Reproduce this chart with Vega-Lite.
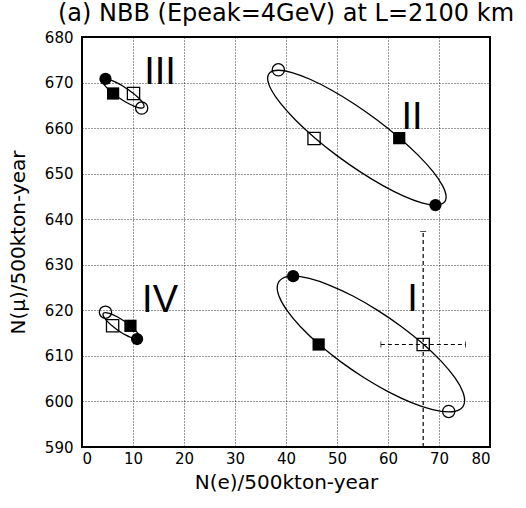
{
  "$schema": "https://vega.github.io/schema/vega-lite/v6.json",
  "width": 408,
  "height": 410,
  "autosize": {"type": "none"},
  "padding": {"left": 82, "top": 37, "right": 36, "bottom": 61},
  "background": "white",
  "config": {
    "view": {"stroke": "black", "strokeWidth": 2},
    "font": "DejaVu Sans",
    "axis": {
      "domain": false,
      "ticks": false,
      "grid": true,
      "gridColor": "black",
      "gridDash": [1, 2],
      "gridWidth": 0.8,
      "gridOpacity": 1,
      "labelFont": "DejaVu Sans",
      "labelFontSize": 15,
      "labelColor": "black",
      "titleFont": "DejaVu Sans",
      "titleFontSize": 20,
      "titleFontWeight": "normal",
      "titleColor": "black"
    }
  },
  "title": {
    "text": "(a) NBB (Epeak=4GeV) at L=2100 km",
    "font": "DejaVu Sans",
    "fontSize": 24,
    "fontWeight": "normal",
    "color": "black",
    "anchor": "middle",
    "offset": 4
  },
  "datasets": {
    "ellipse": [
      {"g": "I", "i": 0, "x": 41.4, "y": 627.5},
      {"g": "I", "i": 1, "x": 39.27, "y": 626.99},
      {"g": "I", "i": 2, "x": 38.32, "y": 625.5},
      {"g": "I", "i": 3, "x": 38.62, "y": 623.14},
      {"g": "I", "i": 4, "x": 40.15, "y": 620.05},
      {"g": "I", "i": 5, "x": 42.8, "y": 616.46},
      {"g": "I", "i": 6, "x": 46.4, "y": 612.6},
      {"g": "I", "i": 7, "x": 50.7, "y": 608.74},
      {"g": "I", "i": 8, "x": 55.4, "y": 605.15},
      {"g": "I", "i": 9, "x": 60.19, "y": 602.06},
      {"g": "I", "i": 10, "x": 64.73, "y": 599.7},
      {"g": "I", "i": 11, "x": 68.73, "y": 598.21},
      {"g": "I", "i": 12, "x": 71.9, "y": 597.7},
      {"g": "I", "i": 13, "x": 74.03, "y": 598.21},
      {"g": "I", "i": 14, "x": 74.98, "y": 599.7},
      {"g": "I", "i": 15, "x": 74.68, "y": 602.06},
      {"g": "I", "i": 16, "x": 73.15, "y": 605.15},
      {"g": "I", "i": 17, "x": 70.5, "y": 608.74},
      {"g": "I", "i": 18, "x": 66.9, "y": 612.6},
      {"g": "I", "i": 19, "x": 62.6, "y": 616.46},
      {"g": "I", "i": 20, "x": 57.9, "y": 620.05},
      {"g": "I", "i": 21, "x": 53.12, "y": 623.14},
      {"g": "I", "i": 22, "x": 48.57, "y": 625.5},
      {"g": "I", "i": 23, "x": 44.57, "y": 626.99},

      {"g": "II", "i": 0, "x": 69.3, "y": 643.1},
      {"g": "II", "i": 1, "x": 70.92, "y": 643.6},
      {"g": "II", "i": 2, "x": 71.39, "y": 645.08},
      {"g": "II", "i": 3, "x": 70.66, "y": 647.44},
      {"g": "II", "i": 4, "x": 68.79, "y": 650.5},
      {"g": "II", "i": 5, "x": 65.9, "y": 654.07},
      {"g": "II", "i": 6, "x": 62.2, "y": 657.9},
      {"g": "II", "i": 7, "x": 57.93, "y": 661.73},
      {"g": "II", "i": 8, "x": 53.39, "y": 665.3},
      {"g": "II", "i": 9, "x": 48.88, "y": 668.37},
      {"g": "II", "i": 10, "x": 44.71, "y": 670.72},
      {"g": "II", "i": 11, "x": 41.17, "y": 672.2},
      {"g": "II", "i": 12, "x": 38.5, "y": 672.7},
      {"g": "II", "i": 13, "x": 36.88, "y": 672.2},
      {"g": "II", "i": 14, "x": 36.41, "y": 670.72},
      {"g": "II", "i": 15, "x": 37.14, "y": 668.37},
      {"g": "II", "i": 16, "x": 39.01, "y": 665.3},
      {"g": "II", "i": 17, "x": 41.9, "y": 661.73},
      {"g": "II", "i": 18, "x": 45.6, "y": 657.9},
      {"g": "II", "i": 19, "x": 49.87, "y": 654.07},
      {"g": "II", "i": 20, "x": 54.41, "y": 650.5},
      {"g": "II", "i": 21, "x": 58.92, "y": 647.44},
      {"g": "II", "i": 22, "x": 63.09, "y": 645.08},
      {"g": "II", "i": 23, "x": 66.63, "y": 643.6},

      {"g": "III", "i": 0, "x": 4.55, "y": 670.8},
      {"g": "III", "i": 1, "x": 4.15, "y": 670.69},
      {"g": "III", "i": 2, "x": 4.03, "y": 670.37},
      {"g": "III", "i": 3, "x": 4.18, "y": 669.86},
      {"g": "III", "i": 4, "x": 4.59, "y": 669.2},
      {"g": "III", "i": 5, "x": 5.25, "y": 668.43},
      {"g": "III", "i": 6, "x": 6.1, "y": 667.6},
      {"g": "III", "i": 7, "x": 7.09, "y": 666.77},
      {"g": "III", "i": 8, "x": 8.14, "y": 666.0},
      {"g": "III", "i": 9, "x": 9.2, "y": 665.34},
      {"g": "III", "i": 10, "x": 10.17, "y": 664.83},
      {"g": "III", "i": 11, "x": 11.01, "y": 664.51},
      {"g": "III", "i": 12, "x": 11.65, "y": 664.4},
      {"g": "III", "i": 13, "x": 12.05, "y": 664.51},
      {"g": "III", "i": 14, "x": 12.17, "y": 664.83},
      {"g": "III", "i": 15, "x": 12.02, "y": 665.34},
      {"g": "III", "i": 16, "x": 11.61, "y": 666.0},
      {"g": "III", "i": 17, "x": 10.95, "y": 666.77},
      {"g": "III", "i": 18, "x": 10.1, "y": 667.6},
      {"g": "III", "i": 19, "x": 9.11, "y": 668.43},
      {"g": "III", "i": 20, "x": 8.06, "y": 669.2},
      {"g": "III", "i": 21, "x": 7.0, "y": 669.86},
      {"g": "III", "i": 22, "x": 6.03, "y": 670.37},
      {"g": "III", "i": 23, "x": 5.19, "y": 670.69},

      {"g": "IV", "i": 0, "x": 10.8, "y": 613.7},
      {"g": "IV", "i": 1, "x": 11.16, "y": 613.8},
      {"g": "IV", "i": 2, "x": 11.29, "y": 614.09},
      {"g": "IV", "i": 3, "x": 11.17, "y": 614.55},
      {"g": "IV", "i": 4, "x": 10.81, "y": 615.15},
      {"g": "IV", "i": 5, "x": 10.24, "y": 615.85},
      {"g": "IV", "i": 6, "x": 9.5, "y": 616.6},
      {"g": "IV", "i": 7, "x": 8.64, "y": 617.35},
      {"g": "IV", "i": 8, "x": 7.71, "y": 618.05},
      {"g": "IV", "i": 9, "x": 6.78, "y": 618.65},
      {"g": "IV", "i": 10, "x": 5.92, "y": 619.11},
      {"g": "IV", "i": 11, "x": 5.17, "y": 619.4},
      {"g": "IV", "i": 12, "x": 4.6, "y": 619.5},
      {"g": "IV", "i": 13, "x": 4.24, "y": 619.4},
      {"g": "IV", "i": 14, "x": 4.12, "y": 619.11},
      {"g": "IV", "i": 15, "x": 4.24, "y": 618.65},
      {"g": "IV", "i": 16, "x": 4.59, "y": 618.05},
      {"g": "IV", "i": 17, "x": 5.16, "y": 617.35},
      {"g": "IV", "i": 18, "x": 5.9, "y": 616.6},
      {"g": "IV", "i": 19, "x": 6.76, "y": 615.85},
      {"g": "IV", "i": 20, "x": 7.69, "y": 615.15},
      {"g": "IV", "i": 21, "x": 8.62, "y": 614.55},
      {"g": "IV", "i": 22, "x": 9.49, "y": 614.09},
      {"g": "IV", "i": 23, "x": 10.23, "y": 613.8}
    ],
    "markers": [
      {"g": "I", "kind": "filled circle", "x": 41.4, "y": 627.5},
      {"g": "I", "kind": "filled square", "x": 46.4, "y": 612.5},
      {"g": "I", "kind": "open square", "x": 66.9, "y": 612.5},
      {"g": "I", "kind": "open circle", "x": 71.9, "y": 597.8},
      {"g": "II", "kind": "open circle", "x": 38.5, "y": 672.8},
      {"g": "II", "kind": "open square", "x": 45.5, "y": 657.7},
      {"g": "II", "kind": "filled square", "x": 62.2, "y": 657.8},
      {"g": "II", "kind": "filled circle", "x": 69.3, "y": 643.1},
      {"g": "III", "kind": "filled circle", "x": 4.6, "y": 670.8},
      {"g": "III", "kind": "filled square", "x": 6.1, "y": 667.6},
      {"g": "III", "kind": "open square", "x": 10.1, "y": 667.6},
      {"g": "III", "kind": "open circle", "x": 11.7, "y": 664.4},
      {"g": "IV", "kind": "open circle", "x": 4.6, "y": 619.6},
      {"g": "IV", "kind": "open square", "x": 6.0, "y": 616.6},
      {"g": "IV", "kind": "filled square", "x": 9.5, "y": 616.6},
      {"g": "IV", "kind": "filled circle", "x": 10.8, "y": 613.7}
    ],
    "labels": [
      {"label": "I", "x": 64.8, "y": 622.2},
      {"label": "II", "x": 64.7, "y": 662.2},
      {"label": "III", "x": 15.3, "y": 672.1},
      {"label": "IV", "x": 15.3, "y": 622.0}
    ],
    "errx": [{"xlo": 58.6, "xhi": 75.2, "y": 612.5}],
    "erry": [{"x": 66.9, "ylo": 590, "yhi": 637.3}]
  },
  "layer": [
    {
      "data": {"name": "ellipse"},
      "mark": {"type": "line", "interpolate": "cardinal-closed", "color": "black", "strokeWidth": 1.3},
      "encoding": {
        "x": {"field": "x", "type": "quantitative", "scale": {"domain": [0, 80], "nice": false, "zero": false},
              "axis": {"values": [0, 10, 20, 30, 40, 50, 60, 70, 80], "labelPadding": 4, "titlePadding": 6},
              "title": "N(e)/500kton-year"},
        "y": {"field": "y", "type": "quantitative", "scale": {"domain": [590, 680], "nice": false, "zero": false},
              "axis": {"values": [590, 600, 610, 620, 630, 640, 650, 660, 670, 680], "labelPadding": 9, "titlePadding": 16},
              "title": "N(μ)/500kton-year"},
        "detail": {"field": "g"},
        "order": {"field": "i", "type": "quantitative"}
      }
    },
    {
      "data": {"name": "errx"},
      "mark": {"type": "errorbar", "ticks": {"size": 6, "color": "black"}, "rule": {"strokeDash": [4, 3], "color": "black", "strokeWidth": 1.2}},
      "encoding": {
        "x": {"field": "xlo", "type": "quantitative", "title": "N(e)/500kton-year"},
        "x2": {"field": "xhi"},
        "y": {"field": "y", "type": "quantitative", "title": "N(μ)/500kton-year"}
      }
    },
    {
      "data": {"name": "erry"},
      "mark": {"type": "errorbar", "ticks": {"size": 6, "color": "black"}, "rule": {"strokeDash": [4, 3], "color": "black", "strokeWidth": 1.2}},
      "encoding": {
        "y": {"field": "ylo", "type": "quantitative", "title": "N(μ)/500kton-year"},
        "y2": {"field": "yhi"},
        "x": {"field": "x", "type": "quantitative", "title": "N(e)/500kton-year"}
      }
    },
    {
      "data": {"name": "markers"},
      "transform": [{"filter": "indexof(datum.kind, 'open') === 0"}],
      "mark": {"type": "point", "filled": false, "stroke": "black", "strokeWidth": 1.3, "opacity": 1},
      "encoding": {
        "x": {"field": "x", "type": "quantitative", "title": "N(e)/500kton-year"},
        "y": {"field": "y", "type": "quantitative", "title": "N(μ)/500kton-year"},
        "shape": {"field": "kind", "type": "nominal", "scale": {"domain": ["open circle", "open square"], "range": ["circle", "square"]}, "legend": null},
        "size": {"value": 150}
      }
    },
    {
      "data": {"name": "markers"},
      "transform": [{"filter": "indexof(datum.kind, 'filled') === 0"}],
      "mark": {"type": "point", "filled": true, "fill": "black", "opacity": 1},
      "encoding": {
        "x": {"field": "x", "type": "quantitative", "title": "N(e)/500kton-year"},
        "y": {"field": "y", "type": "quantitative", "title": "N(μ)/500kton-year"},
        "shape": {"field": "kind", "type": "nominal", "scale": {"domain": ["filled circle", "filled square"], "range": ["circle", "square"]}, "legend": null},
        "size": {"value": 150}
      }
    },
    {
      "data": {"name": "labels"},
      "mark": {"type": "text", "font": "Liberation Sans", "fontSize": 38, "align": "center", "baseline": "middle", "color": "black"},
      "encoding": {
        "x": {"field": "x", "type": "quantitative", "title": "N(e)/500kton-year"},
        "y": {"field": "y", "type": "quantitative", "title": "N(μ)/500kton-year"},
        "text": {"field": "label"}
      }
    }
  ]
}
